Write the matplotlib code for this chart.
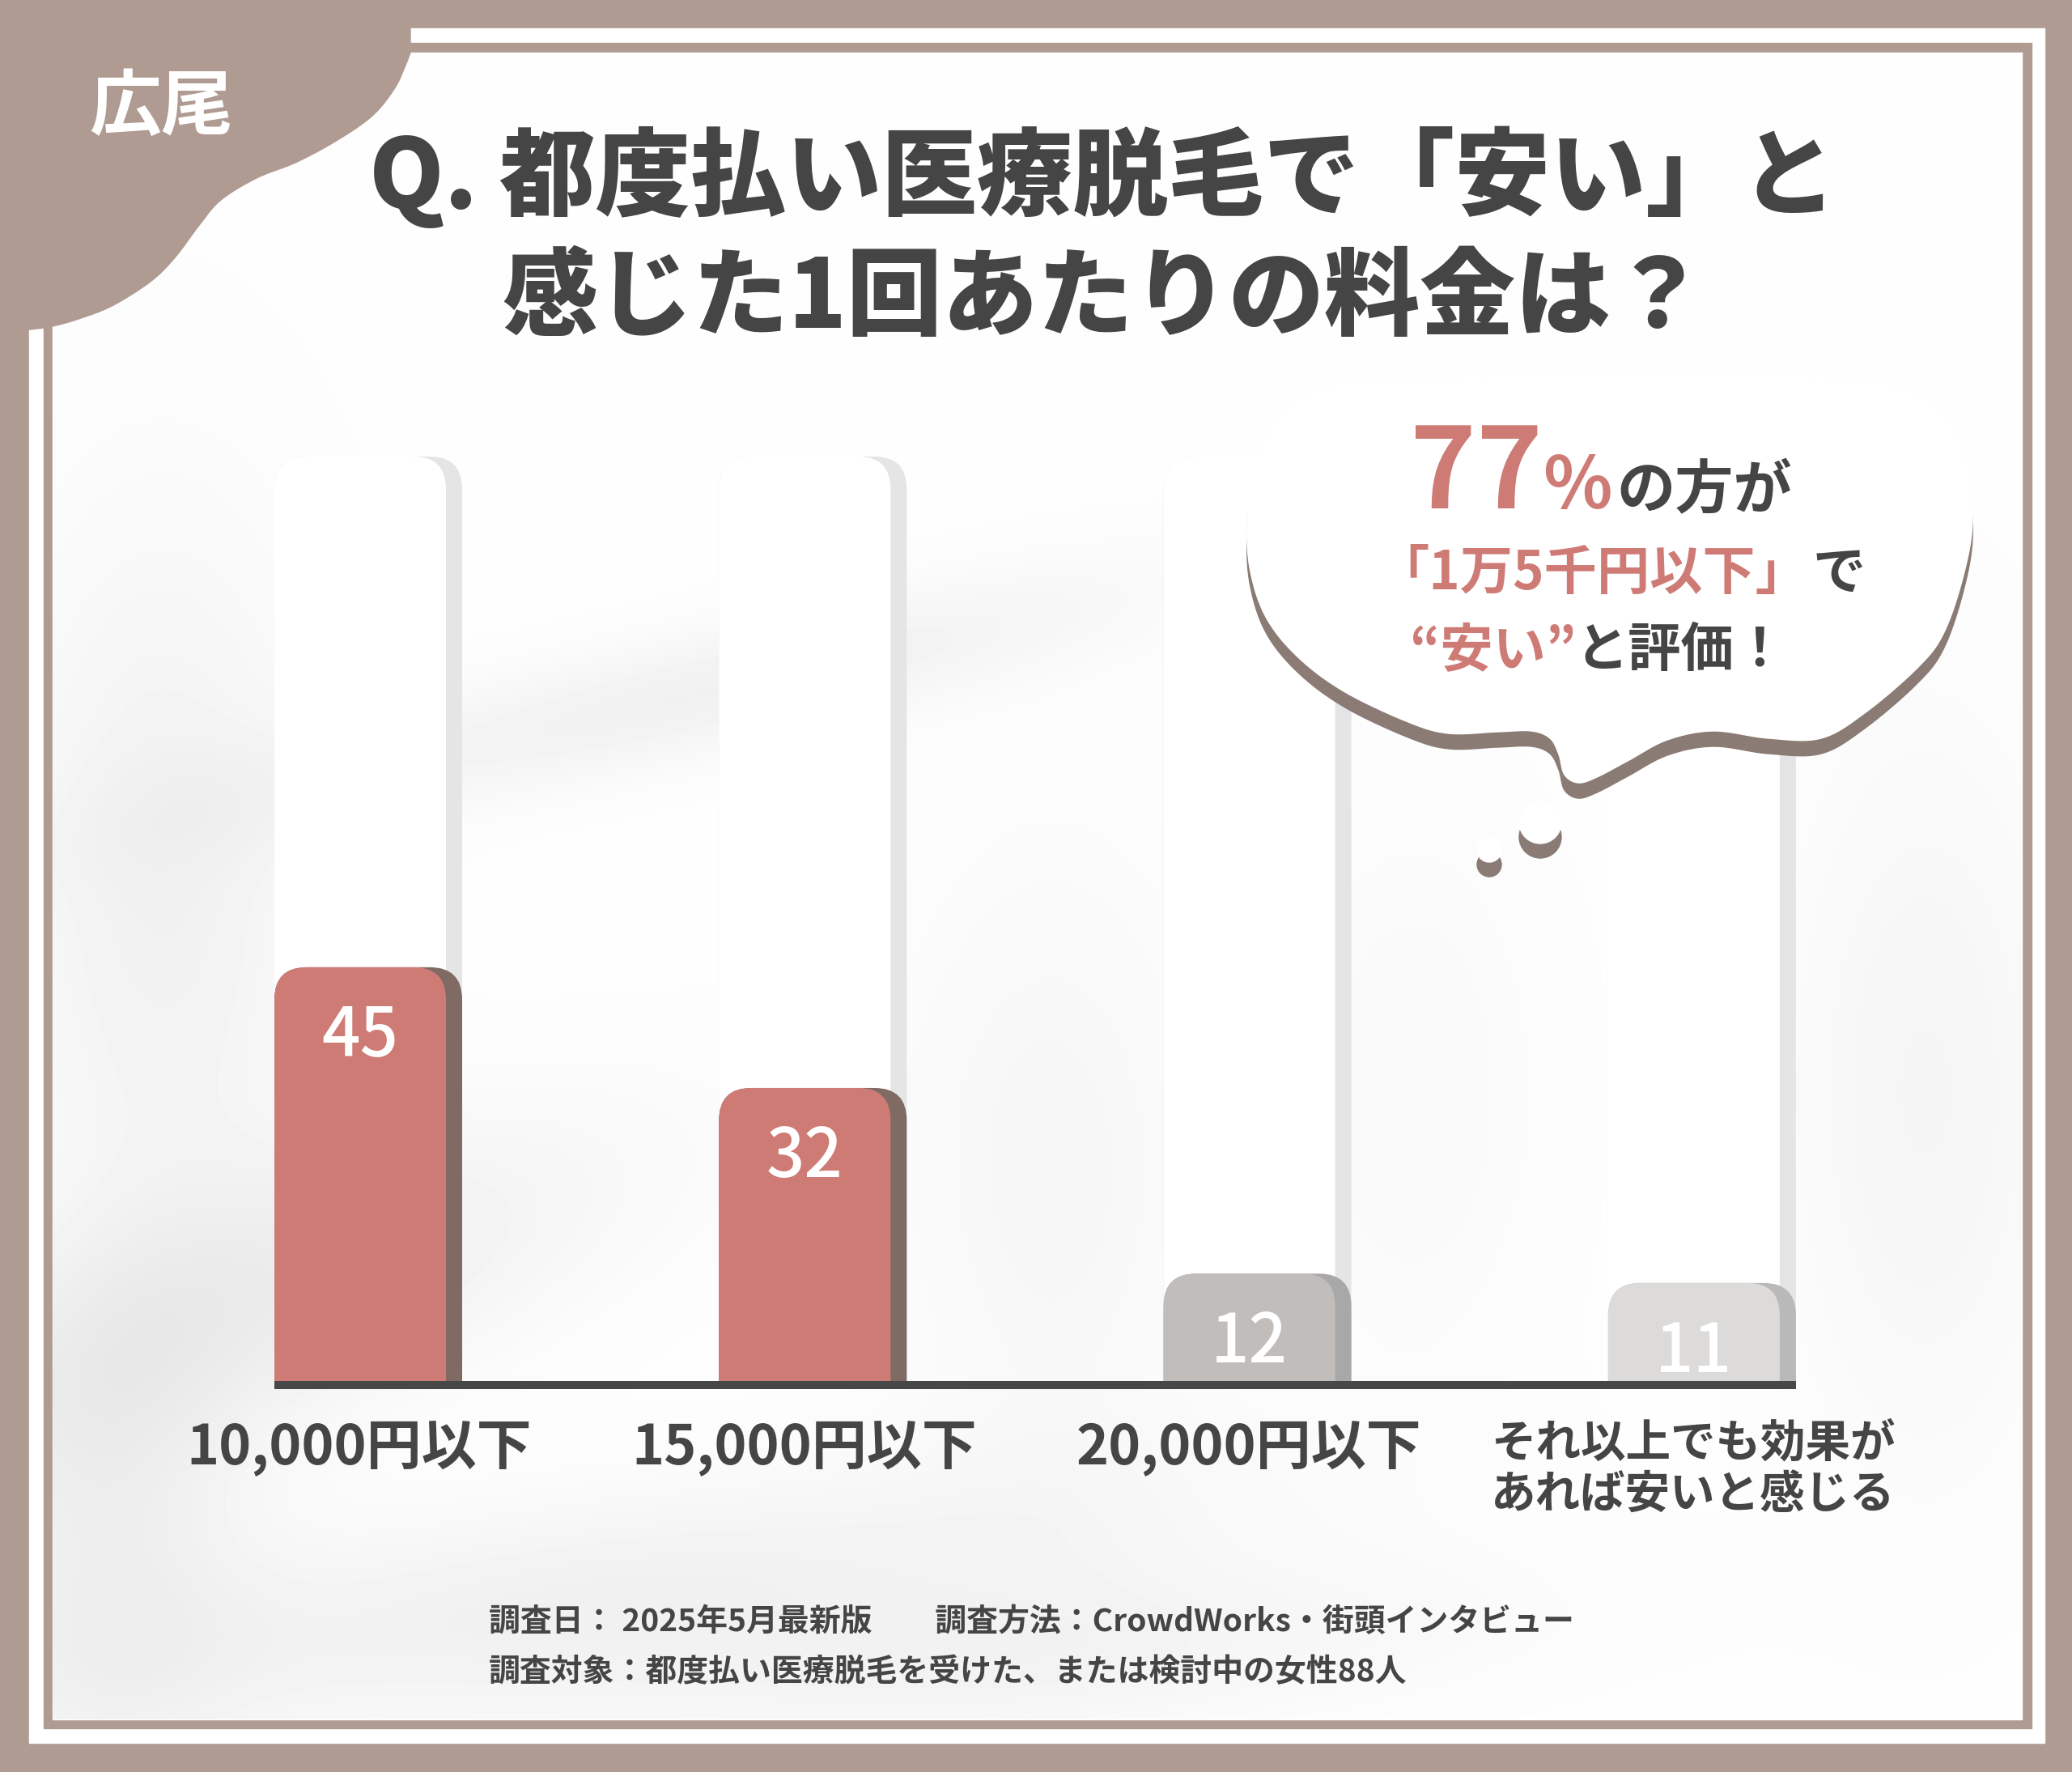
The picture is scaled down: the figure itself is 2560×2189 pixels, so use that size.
import numpy as np
import matplotlib
matplotlib.use('Agg')
import matplotlib.pyplot as plt
from matplotlib.patches import FancyBboxPatch, Polygon, Circle, Rectangle

# ---------------- data ----------------
categories = ['10,000円以下', '15,000円以下', '20,000円以下', 'それ以上でも効果が\nあれば安いと感じる']
values = [45, 32, 12, 11]
track_max = 100
bar_colors = ['#cf7b75', '#cf7b75', '#c1bdbb', '#dcdbda']
bar_shadow_colors = ['#806b64', '#806b64', '#a9a8a8', '#b9b9b9']
title_lines = ['Q. 都度払い医療脱毛で「安い」と', '感じた1回あたりの料金は？']
tag_text = '広尾'
footer_lines = ['調査日： 2025年5月最新版　　調査方法：CrowdWorks・街頭インタビュー',
                '調査対象：都度払い医療脱毛を受けた、または検討中の女性88人']
bubble_runs = [
    [('77', 'pink', 100), ('%', 'pink', 64), ('の方が', 'dark', 52)],
    [('「1万5千円以下」', 'pink', 47), ('で', 'dark', 47)],
    [('“安い”', 'pink', 47), ('と評価！', 'dark', 47)],
]

# ---------------- style ----------------
FONT = ['Noto Sans CJK JP', 'DejaVu Sans']
plt.rcParams['font.family'] = FONT
BROWN = '#b09b92'
DARK = '#454545'
PINK = '#cf7b75'
BUBBLE_SHADOW = '#8b7b75'
W, H = 2560, 2189

fig = plt.figure(figsize=(W / 100, H / 100), dpi=100)

# ---------------- background / frame ----------------
bg = fig.add_axes([0, 0, 1, 1])
bg.set_xlim(0, W); bg.set_ylim(H, 0); bg.axis('off')
bg.add_patch(Rectangle((0, 0), W, H, color=BROWN, zorder=0))
bg.add_patch(Rectangle((36, 35), 2526 - 36, 2153 - 35, color='white', zorder=1))
bg.add_patch(Rectangle((54, 53), 2510 - 54, 2135 - 53, color=BROWN, zorder=2))
bg.add_patch(Rectangle((65, 65), 2498 - 65, 2124 - 65, color='white', zorder=3))

# soft silky texture
xs = np.linspace(65, 2498, 610)
ys = np.linspace(65, 2124, 515)
X, Y = np.meshgrid(xs, ys)
field = np.full_like(X, 0.995)
streaks = [
    (200, 1100, 140, 330, 0, 0.05),
    (850, 860, 420, 55, -13, 0.05),
    (330, 1600, 330, 110, -20, 0.06),
    (700, 1980, 520, 90, -8, 0.05),
    (1300, 2050, 400, 70, -5, 0.035),
    (2380, 1350, 120, 320, 0, 0.035),
    (1300, 1450, 140, 300, 0, 0.03),
    (1750, 1350, 120, 260, 0, 0.02),
    (130, 1900, 120, 200, 0, 0.05),
]
for cx, cy, sx, sy, ang, d in streaks:
    a = np.deg2rad(ang)
    u = (X - cx) * np.cos(a) + (Y - cy) * np.sin(a)
    v = -(X - cx) * np.sin(a) + (Y - cy) * np.cos(a)
    field -= d * np.exp(-0.5 * (u / sx) ** 2 - 0.5 * (v / sy) ** 2)
bg.imshow(field, cmap='gray', vmin=0, vmax=1, extent=(65, 2498, 2124, 65),
          interpolation='bilinear', zorder=4, aspect='auto')
bg.set_xlim(0, W); bg.set_ylim(H, 0)


def catmull(pts, n=16, closed=False):
    p = np.asarray(pts, float)
    if closed:
        p = np.vstack([p[-1], p, p[0], p[1]])
    else:
        p = np.vstack([p[0], p, p[-1]])
    out = []
    for i in range(1, len(p) - 2):
        p0, p1, p2, p3 = p[i - 1], p[i], p[i + 1], p[i + 2]
        t = np.linspace(0, 1, n, endpoint=False)[:, None]
        seg = 0.5 * ((2 * p1) + (-p0 + p2) * t + (2 * p0 - 5 * p1 + 4 * p2 - p3) * t ** 2
                     + (-p0 + 3 * p1 - 3 * p2 + p3) * t ** 3)
        out.append(seg)
    out.append(p[-2][None, :])
    return np.vstack(out)


blob_edge = [(507, 65), (500, 83), (487, 110), (460, 143), (417, 173), (367, 200),
             (317, 220), (273, 247), (247, 277), (217, 317), (187, 347), (140, 377),
             (100, 393), (65, 403), (37, 407)]
curve = catmull(blob_edge)
blob = np.vstack([[(0, 0), (507, 0)], curve, [(0, 410)]])
bg.add_patch(Polygon(blob, closed=True, color=BROWN, zorder=5))

# ---------------- chart axes ----------------
L_px, R_px, base_px, top_px = 300, 2300, 1711, 564
x0_px, step_px = 455, 549.3
ax = fig.add_axes([L_px / W, (H - base_px) / H, (R_px - L_px) / W, (base_px - top_px) / H])
ax.set_zorder(2)
ax.patch.set_alpha(0)
ax.set_xlim((L_px - x0_px) / step_px, (R_px - x0_px) / step_px)
ax.set_ylim(0, track_max)
ypx = (base_px - top_px) / track_max  # px per unit

bw = 232 / step_px
mw = 212 / step_px
rx = 40 / step_px
ry = 40 / ypx
asp = ry / rx


def rbar(left, width, height, color, z):
    p = FancyBboxPatch((left, -10), width, height + 10,
                       boxstyle=f"round,pad=0,rounding_size={rx}",
                       mutation_aspect=asp, facecolor=color, edgecolor='none', zorder=z)
    ax.add_patch(p)


for i, v in enumerate(values):
    left = i - bw / 2
    rbar(left, bw, track_max, '#e5e5e5', 1)
    rbar(left, mw, track_max, 'white', 1.1)
    rbar(left, bw, v, bar_shadow_colors[i], 2)
    rbar(left, mw, v, bar_colors[i], 2.1)
    ax.text(left + mw / 2, v - 110 / ypx, str(v), ha='center', va='baseline',
            color='white', fontsize=60, fontweight='medium', zorder=3)

ax.plot([0 - bw / 2, len(values) - 1 + bw / 2], [0, 0], color='#474747',
        lw=10 * 0.72, solid_capstyle='butt', clip_on=False, zorder=5)

for s in ax.spines.values():
    s.set_visible(False)
ax.set_yticks([])
ax.set_xticks([i - 0.02 for i in range(len(categories))])
ax.set_xticklabels(categories, color=DARK, fontweight='bold', linespacing=1.2)
ax.tick_params(axis='x', length=0, pad=32)
for k, t in enumerate(ax.get_xticklabels()):
    t.set_fontsize(49 if k < 3 else 40)

# ---------------- foreground (title, bubble, footer) ----------------
fg = fig.add_axes([0, 0, 1, 1])
fg.set_zorder(3)
fg.patch.set_alpha(0)
fg.set_xlim(0, W); fg.set_ylim(H, 0); fg.axis('off')

fg.text(110, 160, tag_text, color='white', fontsize=64, fontweight='bold',
        ha='left', va='baseline')
fg.text(456, 257, title_lines[0], color=DARK, fontsize=85, fontweight='heavy',
        ha='left', va='baseline')
fg.text(620, 405, title_lines[1], color=DARK, fontsize=85, fontweight='heavy',
        ha='left', va='baseline')

# speech bubble
bub = [(1700, 470), (2000, 464), (2300, 470), (2395, 505), (2430, 570), (2437, 645),
       (2425, 714), (2401, 783), (2369, 825), (2305, 880), (2250, 912), (2185, 912),
       (2117, 903), (2060, 914), (2011, 940), (1973, 960), (1950, 967), (1933, 957),
       (1926, 932), (1915, 912), (1892, 903), (1850, 904), (1790, 906), (1740, 892),
       (1662, 855), (1605, 813), (1565, 764), (1545, 706), (1541, 645), (1549, 570),
       (1590, 503), (1645, 478)]
bpath = catmull(bub, closed=True)
fg.add_patch(Polygon(bpath + [0, 19], closed=True, color=BUBBLE_SHADOW, zorder=1))
fg.add_patch(Polygon(bpath, closed=True, color='white', zorder=2))
for cx, cy, r in [(1903, 1016, 26), (1840, 1050, 15)]:
    fg.add_patch(Circle((cx, cy + 18), r, color=BUBBLE_SHADOW, zorder=1))
    fg.add_patch(Circle((cx, cy), r, color='white', zorder=2))

run_x = [[1742, 1906, 1997], [1700, 2240], [1742, 1946]]
run_y = [628, 728, 823]
for li, runs in enumerate(bubble_runs):
    for ri, (txt, col, fs) in enumerate(runs):
        fg.text(run_x[li][ri], run_y[li], txt, color=PINK if col == 'pink' else DARK,
                fontsize=fs, fontweight='bold', ha='left', va='baseline', zorder=3)

fg.text(604, 2015, footer_lines[0], color=DARK, fontsize=28, fontweight='bold',
        ha='left', va='baseline')
fg.text(604, 2077, footer_lines[1], color=DARK, fontsize=28, fontweight='bold',
        ha='left', va='baseline')

fig.savefig('out.png', dpi=100)
